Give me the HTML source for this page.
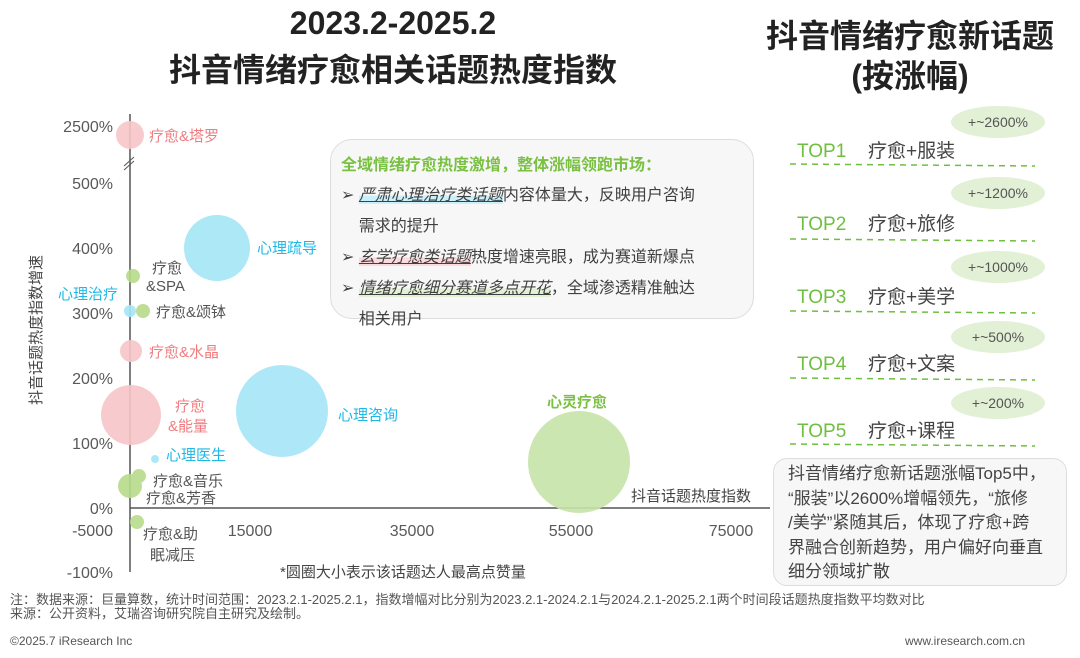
<!DOCTYPE html>
<html><head><meta charset="utf-8"><style>
body{margin:0;width:1080px;height:658px;background:#fff;font-family:"Liberation Sans","Noto Sans CJK SC",sans-serif;position:relative;overflow:hidden;color:#404040}
.a{position:absolute;white-space:nowrap}
.t{font-weight:bold;font-size:32px;color:#222;text-align:center}
</style></head><body>
<div class="a t" style="left:143px;top:4px;width:500px;line-height:38px">2023.2-2025.2</div>
<div class="a t" style="left:143px;top:50px;width:500px;line-height:40px">抖音情绪疗愈相关话题热度指数</div>
<div class="a t" style="left:740px;top:16px;width:340px;line-height:40px">抖音情绪疗愈新话题<br>(按涨幅)</div>

<svg class="a" style="left:0;top:0" width="1080" height="658">
<g font-size="16" fill="#595959" text-anchor="end" font-family="Liberation Sans,sans-serif">
<text x="113" y="132">2500%</text><text x="113" y="189">500%</text><text x="113" y="254">400%</text><text x="113" y="319">300%</text><text x="113" y="384">200%</text><text x="113" y="449">100%</text><text x="113" y="514">0%</text><text x="113" y="536">-5000</text><text x="113" y="578">-100%</text>
</g>
<g font-size="16" fill="#595959" text-anchor="middle"><text x="250" y="536">15000</text><text x="412" y="536">35000</text><text x="571" y="536">55000</text><text x="731" y="536">75000</text></g>
<line x1="130" y1="114" x2="130" y2="572" stroke="#555" stroke-width="1.5"/>
<line x1="130" y1="508" x2="770" y2="508" stroke="#555" stroke-width="1.5"/>
<line x1="124" y1="166" x2="134" y2="157" stroke="#555"/><line x1="124" y1="170" x2="134" y2="161" stroke="#555"/>
<text transform="translate(41,330) rotate(-90)" font-size="15" fill="#444" text-anchor="middle">抖音话题热度指数增速</text>
<g opacity="0.9">
<circle cx="130" cy="135" r="14" fill="#f7c6c8"/>
<circle cx="217" cy="248" r="33" fill="#a5e6f7"/>
<circle cx="133" cy="276" r="7" fill="#b7db8b"/>
<circle cx="130" cy="311" r="6" fill="#a5e6f7"/>
<circle cx="143" cy="311" r="7" fill="#b7db8b"/>
<circle cx="131" cy="351" r="11" fill="#f7c6c8"/>
<circle cx="131" cy="415" r="30" fill="#f7c6c8"/>
<circle cx="282" cy="411" r="46" fill="#a5e6f7"/>
<circle cx="155" cy="459" r="4" fill="#a5e6f7"/>
<circle cx="139" cy="476" r="7" fill="#b7db8b"/>
<circle cx="130" cy="486" r="12" fill="#b7db8b"/>
<circle cx="137" cy="522" r="7" fill="#b7db8b"/>
<circle cx="579" cy="462" r="51" fill="#c7e3a8"/>
</g>
<g font-size="15">
<text x="149" y="141" fill="#f07c80">疗愈&amp;塔罗</text>
<text x="257" y="253" fill="#1fb9e6">心理疏导</text>
<text x="152" y="273" fill="#555">疗愈</text><text x="146" y="291" fill="#555">&amp;SPA</text>
<text x="58" y="299" fill="#1fb9e6">心理治疗</text>
<text x="156" y="317" fill="#555">疗愈&amp;颂钵</text>
<text x="149" y="357" fill="#f07c80">疗愈&amp;水晶</text>
<text x="175" y="411" fill="#f07c80">疗愈</text><text x="168" y="431" fill="#f07c80">&amp;能量</text>
<text x="338" y="420" fill="#1fb9e6">心理咨询</text>
<text x="166" y="460" fill="#1fb9e6">心理医生</text>
<text x="153" y="486" fill="#555">疗愈&amp;音乐</text>
<text x="146" y="503" fill="#555">疗愈&amp;芳香</text>
<text x="143" y="539" fill="#555">疗愈&amp;助</text><text x="150" y="560" fill="#555">眠减压</text>
<text x="547" y="407" fill="#7ac143" font-weight="bold">心灵疗愈</text>
<text x="631" y="501" fill="#444">抖音话题热度指数</text>
<text x="280" y="577" fill="#444">*圆圈大小表示该话题达人最高点赞量</text>
</g>
<g stroke="#6fbf3f" stroke-width="1.5" stroke-dasharray="6,5">
<line x1="790" y1="164" x2="1035" y2="166"/><line x1="790" y1="239" x2="1035" y2="241"/><line x1="790" y1="311" x2="1035" y2="313"/><line x1="790" y1="378" x2="1035" y2="380"/><line x1="790" y1="444" x2="1035" y2="446"/>
</g>
<g fill="#e2f0d5"><ellipse cx="998" cy="122" rx="47" ry="16"/><ellipse cx="998" cy="193" rx="47" ry="16"/><ellipse cx="998" cy="267" rx="47" ry="16"/><ellipse cx="998" cy="337" rx="47" ry="16"/><ellipse cx="998" cy="403" rx="47" ry="16"/></g>
<g font-size="14" fill="#555" text-anchor="middle"><text x="998" y="127">+~2600%</text><text x="998" y="198">+~1200%</text><text x="998" y="272">+~1000%</text><text x="998" y="342">+~500%</text><text x="998" y="408">+~200%</text></g>
<g font-size="19" fill="#6fbf3f"><text x="797" y="157">TOP1</text><text x="797" y="230">TOP2</text><text x="797" y="303">TOP3</text><text x="797" y="370">TOP4</text><text x="797" y="437">TOP5</text></g>
<g font-size="19" fill="#444"><text x="868" y="157">疗愈+服装</text><text x="868" y="230">疗愈+旅修</text><text x="868" y="303">疗愈+美学</text><text x="868" y="370">疗愈+文案</text><text x="868" y="437">疗愈+课程</text></g>
</svg>

<div class="a" style="left:330px;top:139px;width:424px;height:180px;border:1.5px solid #ddd;border-radius:22px;background:#f7f7f7;font-size:16px;line-height:31px;padding:12px 0 0 10px;box-sizing:border-box">
<div style="color:#7ac143;font-weight:bold;line-height:28px">全域情绪疗愈热度激增，整体涨幅领跑市场：</div>
<div>➢ <span style="font-style:italic;text-decoration:underline;background:linear-gradient(transparent 50%,#c9f0fb 50%)">严肃心理治疗类话题</span>内容体量大，反映用户咨询<br>&nbsp;&nbsp;&nbsp;&nbsp;需求的提升</div>
<div>➢ <span style="font-style:italic;text-decoration:underline;background:linear-gradient(transparent 50%,#fbd9dc 50%)">玄学疗愈类话题</span>热度增速亮眼，成为赛道新爆点</div>
<div>➢ <span style="font-style:italic;text-decoration:underline;background:linear-gradient(transparent 50%,#e2f0d5 50%)">情绪疗愈细分赛道多点开花</span>，全域渗透精准触达<br>&nbsp;&nbsp;&nbsp;&nbsp;相关用户</div>
</div>

<div class="a" style="left:773px;top:458px;width:294px;height:128px;border:1.5px solid #ddd;border-radius:14px;background:#f7f7f7;font-size:17px;line-height:24.5px;padding:3px 0 0 14px;box-sizing:border-box;white-space:normal;color:#444">抖音情绪疗愈新话题涨幅Top5中，<br>“服装”以2600%增幅领先，“旅修<br>/美学”紧随其后，体现了疗愈+跨<br>界融合创新趋势，用户偏好向垂直<br>细分领域扩散</div>

<div class="a" style="left:10px;top:593px;font-size:13px;line-height:14px;color:#555">注：数据来源：巨量算数，统计时间范围：2023.2.1-2025.2.1，指数增幅对比分别为2023.2.1-2024.2.1与2024.2.1-2025.2.1两个时间段话题热度指数平均数对比<br>来源：公开资料，艾瑞咨询研究院自主研究及绘制。</div>
<div class="a" style="left:10px;top:634px;font-size:12px;color:#555">©2025.7 iResearch Inc</div>
<div class="a" style="left:905px;top:634px;font-size:12px;color:#555">www.iresearch.com.cn</div>
</body></html>
